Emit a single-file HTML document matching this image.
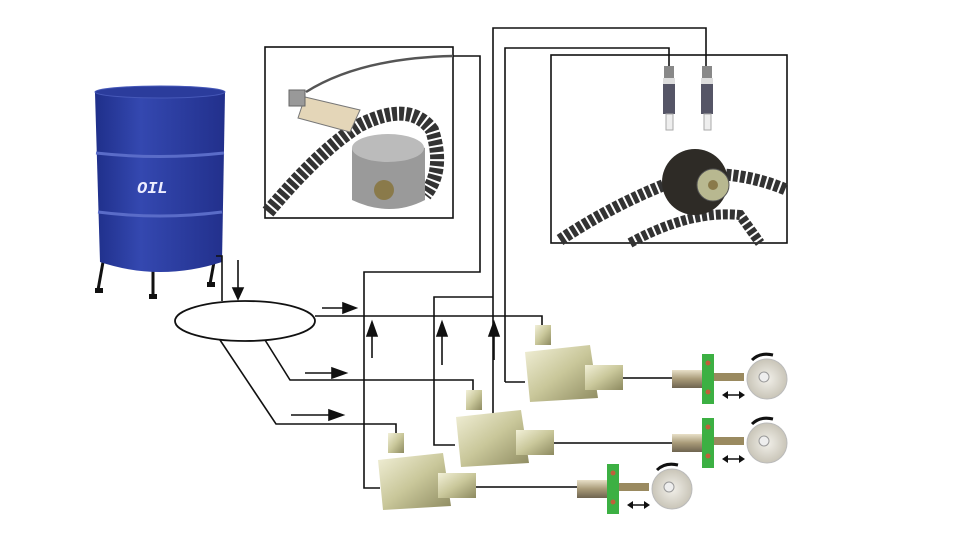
<!DOCTYPE html>
<html><head><meta charset="utf-8"><style>html,body{margin:0;padding:0;background:#fff}svg{display:block}</style></head>
<body>
<svg width="960" height="540" viewBox="0 0 960 540" xmlns="http://www.w3.org/2000/svg" font-family="Liberation Mono, monospace">
<defs>
<linearGradient id="drum" x1="0" x2="1"><stop offset="0" stop-color="#1f2f8a"/><stop offset=".35" stop-color="#3448b0"/><stop offset="1" stop-color="#22308c"/></linearGradient>
<linearGradient id="brass" x1="0" x2="1" y1="0" y2="1"><stop offset="0" stop-color="#f2f0d8"/><stop offset=".5" stop-color="#c9c79a"/><stop offset="1" stop-color="#8d8a60"/></linearGradient>
<linearGradient id="cyl" x1="0" x2="0" y1="0" y2="1"><stop offset="0" stop-color="#e8e0c8"/><stop offset=".5" stop-color="#a89a78"/><stop offset="1" stop-color="#6e6450"/></linearGradient>
<radialGradient id="wheel"><stop offset="0" stop-color="#f2f0ea"/><stop offset="1" stop-color="#c9c5b8"/></radialGradient>
</defs>
<!-- drum -->
<g>
<line x1="103" y1="262" x2="98" y2="290" stroke="#111" stroke-width="3"/>
<line x1="153" y1="270" x2="153" y2="296" stroke="#111" stroke-width="3"/>
<line x1="214" y1="262" x2="210" y2="284" stroke="#111" stroke-width="3"/>
<rect x="95" y="288" width="8" height="5" fill="#111"/><rect x="149" y="294" width="8" height="5" fill="#111"/><rect x="207" y="282" width="8" height="5" fill="#111"/>
<path d="M95 93 Q160 82 225 93 L222 262 Q160 282 100 262 Z" fill="url(#drum)"/>
<ellipse cx="160" cy="92" rx="65" ry="6" fill="#2b3c9c" stroke="#4658b8"/>
<path d="M96 153 Q160 160 224 153" stroke="#5a6cc8" stroke-width="3" fill="none"/>
<path d="M98 212 Q160 220 222 212" stroke="#5a6cc8" stroke-width="3" fill="none"/>
<text x="137" y="193" font-size="17" font-weight="bold" font-style="italic" fill="#eef" >OIL</text>
</g>
<g stroke="#111" stroke-width="1.6" fill="none">
<polyline points="216,256 222,256 222,301"/>
<ellipse cx="245" cy="321" rx="70" ry="20" stroke-width="1.8"/>
<polyline points="315,316 542,316 542,326"/>
<polyline points="265,340 290,380 473,380 473,390"/>
<polyline points="220,340 276,424 396,424 396,434"/>
<polyline points="453,56 480,56 480,272 364,272 364,488 380,488"/>
<polyline points="493,445 493,28 706,28 706,68"/>
<polyline points="493,297 434,297 434,445 455,445"/>
<polyline points="505,382 505,48 669,48 669,68"/>
<polyline points="505,382 525,382"/>
<rect x="265" y="47" width="188" height="171"/>
<rect x="551" y="55" width="236" height="188"/>
</g>
<!-- arrows -->
<g stroke="#111" stroke-width="1.6" fill="#111">
<line x1="238" y1="260" x2="238" y2="290"/><polygon points="233,288 243,288 238,299"/>
<line x1="322" y1="308" x2="345" y2="308"/><polygon points="343,303 356,308 343,313"/>
<line x1="305" y1="373" x2="333" y2="373"/><polygon points="332,368 346,373 332,378"/>
<line x1="291" y1="415" x2="330" y2="415"/><polygon points="329,410 343,415 329,420"/>
<line x1="372" y1="358" x2="372" y2="335"/><polygon points="367,336 377,336 372,322"/>
<line x1="442" y1="365" x2="442" y2="335"/><polygon points="437,336 447,336 442,322"/>
<line x1="494" y1="360" x2="494" y2="335"/><polygon points="489,336 499,336 494,322"/>
</g>
<!-- left inset contents -->
<g>
<path d="M306 92 Q360 58 453 56" stroke="#555" stroke-width="2.5" fill="none"/>
<path d="M268 212 Q320 150 360 125 Q410 100 432 130 Q445 170 425 195" stroke="#333" stroke-width="14" fill="none" stroke-dasharray="5 2"/>
<path d="M305 97 L360 110 L350 132 L298 118 Z" fill="#e4d6b8" stroke="#777"/>
<rect x="289" y="90" width="16" height="16" fill="#999" stroke="#666"/>
<path d="M352 148 Q385 130 425 148 L425 200 Q390 218 352 200 Z" fill="#9a9a9a"/>
<ellipse cx="388" cy="148" rx="36" ry="14" fill="#bbb"/>
<circle cx="384" cy="190" r="10" fill="#8a7a4a"/>
</g>
<!-- right inset contents -->
<g>
<path d="M560 240 Q620 200 690 175 Q740 170 787 190" stroke="#333" stroke-width="12" fill="none" stroke-dasharray="5 2"/>
<path d="M630 243 Q690 210 740 215 L760 243" stroke="#333" stroke-width="10" fill="none" stroke-dasharray="5 2"/>
<circle cx="695" cy="182" r="33" fill="#2e2b26"/>
<circle cx="713" cy="185" r="16" fill="#b8b890" stroke="#555"/>
<circle cx="713" cy="185" r="5" fill="#8a7a4a"/>
<rect x="664" y="66" width="10" height="12" fill="#888"/><rect x="702" y="66" width="10" height="12" fill="#888"/>
<rect x="663" y="78" width="12" height="6" fill="#ddd"/><rect x="701" y="78" width="12" height="6" fill="#ddd"/>
<rect x="663" y="84" width="12" height="30" fill="#556"/><rect x="701" y="84" width="12" height="30" fill="#556"/>
<rect x="666" y="114" width="7" height="16" fill="#eee" stroke="#aaa"/><rect x="704" y="114" width="7" height="16" fill="#eee" stroke="#aaa"/>
</g>
<!-- valves and actuators -->
<g id="r1">
<rect x="535" y="325" width="16" height="20" fill="url(#brass)"/>
<path d="M525 352 L590 345 L598 398 L530 402 Z" fill="url(#brass)"/>
<rect x="585" y="365" width="38" height="25" fill="url(#brass)"/>
<line x1="623" y1="378" x2="672" y2="378" stroke="#444" stroke-width="2"/>
<rect x="672" y="370" width="32" height="18" fill="url(#cyl)"/>
<rect x="702" y="354" width="12" height="50" fill="#3cb043"/>
<circle cx="708" cy="363" r="2.5" fill="#c0603a"/><circle cx="708" cy="392" r="2.5" fill="#c0603a"/>
<rect x="714" y="373" width="30" height="8" fill="#9a8a60"/>
<circle cx="767" cy="379" r="20" fill="url(#wheel)" stroke="#bbb"/><circle cx="764" cy="377" r="5" fill="#eee" stroke="#999"/>
<path d="M752 360 Q760 352 773 355" stroke="#111" stroke-width="3" fill="none"/>
<polygon points="722,395 728,391 728,399" fill="#111"/><polygon points="745,395 739,391 739,399" fill="#111"/><line x1="726" y1="395" x2="741" y2="395" stroke="#111" stroke-width="1.5"/>
</g>
<g transform="translate(-69,65)">
<rect x="535" y="325" width="16" height="20" fill="url(#brass)"/>
<path d="M525 352 L590 345 L598 398 L530 402 Z" fill="url(#brass)"/>
<rect x="585" y="365" width="38" height="25" fill="url(#brass)"/>
</g>
<line x1="554" y1="443" x2="672" y2="443" stroke="#444" stroke-width="2"/>
<g transform="translate(0,64)">
<rect x="672" y="370" width="32" height="18" fill="url(#cyl)"/>
<rect x="702" y="354" width="12" height="50" fill="#3cb043"/>
<circle cx="708" cy="363" r="2.5" fill="#c0603a"/><circle cx="708" cy="392" r="2.5" fill="#c0603a"/>
<rect x="714" y="373" width="30" height="8" fill="#9a8a60"/>
<circle cx="767" cy="379" r="20" fill="url(#wheel)" stroke="#bbb"/><circle cx="764" cy="377" r="5" fill="#eee" stroke="#999"/>
<path d="M752 360 Q760 352 773 355" stroke="#111" stroke-width="3" fill="none"/>
<polygon points="722,395 728,391 728,399" fill="#111"/><polygon points="745,395 739,391 739,399" fill="#111"/><line x1="726" y1="395" x2="741" y2="395" stroke="#111" stroke-width="1.5"/>
</g>
<g transform="translate(-147,108)">
<rect x="535" y="325" width="16" height="20" fill="url(#brass)"/>
<path d="M525 352 L590 345 L598 398 L530 402 Z" fill="url(#brass)"/>
<rect x="585" y="365" width="38" height="25" fill="url(#brass)"/>
</g>
<line x1="476" y1="487" x2="578" y2="487" stroke="#444" stroke-width="2"/>
<g transform="translate(-95,110)">
<rect x="672" y="370" width="32" height="18" fill="url(#cyl)"/>
<rect x="702" y="354" width="12" height="50" fill="#3cb043"/>
<circle cx="708" cy="363" r="2.5" fill="#c0603a"/><circle cx="708" cy="392" r="2.5" fill="#c0603a"/>
<rect x="714" y="373" width="30" height="8" fill="#9a8a60"/>
<circle cx="767" cy="379" r="20" fill="url(#wheel)" stroke="#bbb"/><circle cx="764" cy="377" r="5" fill="#eee" stroke="#999"/>
<path d="M752 360 Q760 352 773 355" stroke="#111" stroke-width="3" fill="none"/>
<polygon points="722,395 728,391 728,399" fill="#111"/><polygon points="745,395 739,391 739,399" fill="#111"/><line x1="726" y1="395" x2="741" y2="395" stroke="#111" stroke-width="1.5"/>
</g>
</svg>
</body></html>
